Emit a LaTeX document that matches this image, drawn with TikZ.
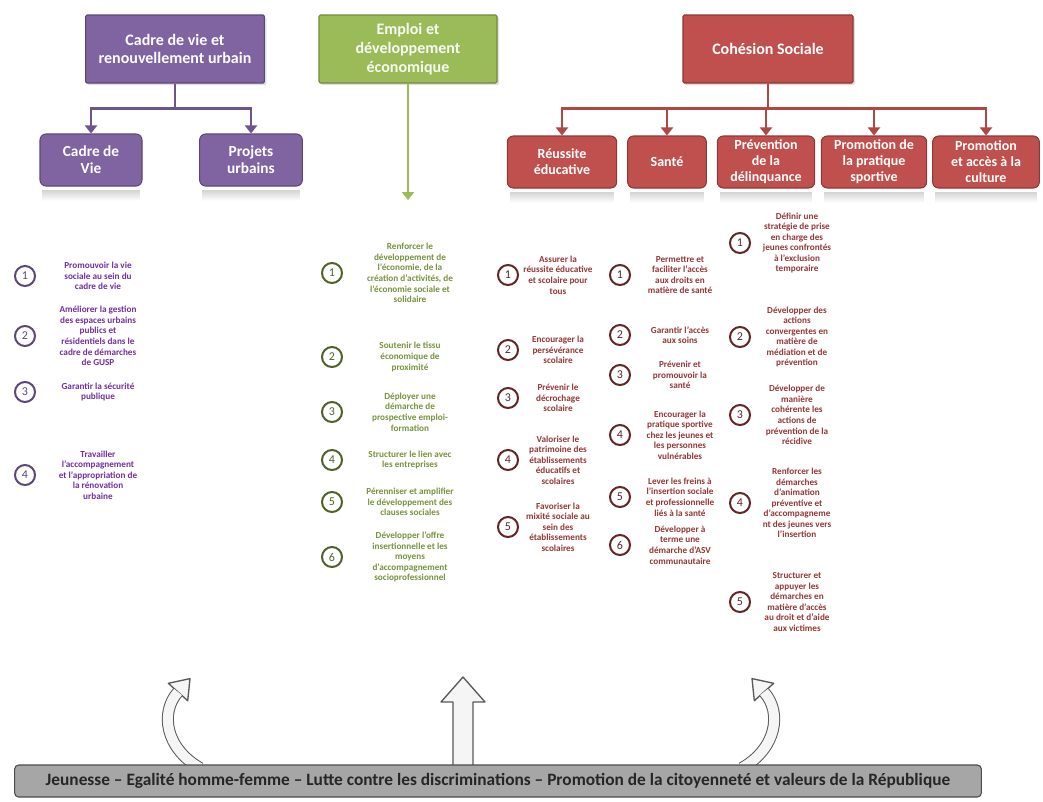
\documentclass[tikz,border=0pt]{standalone}
\usepackage{fontspec}
\setmainfont{Carlito}
\usepackage{xcolor}
\usepackage{tikz}
\usetikzlibrary{arrows.meta,calc,fadings,shadows}
\definecolor{cadrefond}{HTML}{8064A2}
\definecolor{cadretrait}{HTML}{5C4776}
\definecolor{cadretexte}{HTML}{7030A0}
\definecolor{emploifond}{HTML}{9BBB59}
\definecolor{emploitrait}{HTML}{71893F}
\definecolor{emploitexte}{HTML}{76923C}
\definecolor{emploipuce}{HTML}{4F6228}
\definecolor{cohesionfond}{HTML}{C0504D}
\definecolor{cohesiontrait}{HTML}{8C3836}
\definecolor{cohesiontexte}{HTML}{953735}
\definecolor{cohesionpuce}{HTML}{632523}
\definecolor{bandeaufond}{HTML}{A6A6A6}

\begin{document}
\begin{tikzpicture}[x=0.75pt,y=-0.75pt,
  boite/.style={rectangle,rounded corners=1pt,line width=0.8pt,text=white,align=center,
    font=\bfseries\fontsize{12}{14}\selectfont,inner sep=2pt,minimum height=51pt,
    drop shadow={opacity=0.25,shadow xshift=1.5pt,shadow yshift=-1.5pt}},
  sousboite/.style={rectangle,rounded corners=4.5pt,line width=0.8pt,text=white,align=center,
    inner sep=2pt,minimum height=39pt,font=\bfseries\fontsize{10.5}{12}\selectfont},
  lien/.style={line width=2.2pt,-{Triangle[width=9pt,length=6pt]}},
  puce/.style={circle,draw,line width=1.5pt,minimum size=15pt,inner sep=0pt,fill=white,
    font=\fontsize{9}{9}\selectfont},
  objectif/.style={align=center,font=\bfseries\fontsize{6.9}{7.9}\selectfont},
  reflet/.style={fill=gray!35,path fading=south},
  grossefleche/.style={draw=gray!70!black,fill=gray!8,line width=1pt,line join=round}]

  \fill[white] (0,0) rectangle (1043,801);
  \useasboundingbox (0,0) rectangle (1043,801);

  % Cadre de vie et renouvellement urbain
  \node[boite,fill=cadrefond,draw=cadretrait,minimum width=134pt] (cadre) at (175,49)
    {Cadre de vie et\\renouvellement urbain};
  \node[sousboite,fill=cadrefond,draw=cadretrait,minimum width=76.5pt,font=\bfseries\fontsize{11.5}{13}\selectfont] (cadrevie) at (91,160)
    {Cadre de\\Vie};
  \node[sousboite,fill=cadrefond,draw=cadretrait,minimum width=77pt,font=\bfseries\fontsize{11.5}{13}\selectfont] (projets) at (251,160)
    {Projets\\urbains};
  \draw[lien,draw=cadrefond!85!black] (cadre.south) -- ++(0,25) -| (cadrevie.north);
  \draw[lien,draw=cadrefond!85!black] (cadre.south) -- ++(0,25) -| (projets.north);

  % Emploi et developpement economique
  \node[boite,fill=emploifond,draw=emploitrait,minimum width=133.5pt,text=white!92!emploifond] (emploi) at (408,49)
    {Emploi et\\développement\\économique};
  \coordinate (emploifin) at (408,200);
  \draw[lien,draw=emploifond] (emploi.south) -- (emploifin);

  % Cohesion sociale
  \node[boite,fill=cohesionfond,draw=cohesiontrait,minimum width=127.5pt] (cohesion) at (768,49)
    {Cohésion Sociale};
  \node[sousboite,fill=cohesionfond,draw=cohesiontrait,minimum width=82pt] (reussite) at (562,162)
    {Réussite\\éducative};
  \node[sousboite,fill=cohesionfond,draw=cohesiontrait,minimum width=59pt] (sante) at (667,162)
    {Santé};
  \node[sousboite,fill=cohesionfond,draw=cohesiontrait,minimum width=73pt] (prevention) at (766,162)
    {Prévention\\de la\\délinquance};
  \node[sousboite,fill=cohesionfond,draw=cohesiontrait,minimum width=79pt] (sportive) at (874,162)
    {Promotion de\\la pratique\\sportive};
  \node[sousboite,fill=cohesionfond,draw=cohesiontrait,minimum width=80pt] (culture) at (986,162)
    {Promotion\\et accès à la\\culture};
  \foreach \b in {reussite,sante,prevention,sportive,culture}
    \draw[lien,draw=cohesionfond!90!black] (cohesion.south) -- ++(0,25) -| (\b.north);

  % reflets sous les boites
  \foreach \b in {cadrevie,projets,reussite,sante,prevention,sportive,culture}
    \fill[reflet] ($(\b.south west)+(3,3)$) rectangle ($(\b.south east)+(-3,14)$);

  % objectifs
  \foreach \n/\y/\txt in {
    1/276/{Promouvoir la vie\\sociale au sein du\\cadre de vie},
    2/336/{Améliorer la gestion\\des espaces urbains\\publics et\\résidentiels dans le\\cadre de démarches\\de GUSP},
    3/392/{Garantir la sécurité\\publique},
    4/475/{Travailler\\l'accompagnement\\et l'appropriation de\\la rénovation\\urbaine}}{
    \node[puce,draw=cadretrait,text=cadretrait] (cv\n) at (25,\y) {\n};
    \node[objectif,text=cadretexte] (cvt\n) at (98,\y) {\txt};
  }
  \foreach \n/\y/\txt in {
    1/273/{Renforcer le\\développement de\\l'économie, de la\\création d'activités, de\\l'économie sociale et\\solidaire},
    2/357/{Soutenir le tissu\\économique de\\proximité},
    3/412/{Déployer une\\démarche de\\prospective emploi-\\formation},
    4/460/{Structurer le lien avec\\les entreprises},
    5/502/{Pérenniser et amplifier\\le développement des\\clauses sociales},
    6/557/{Développer l'offre\\insertionnelle et les\\moyens\\d'accompagnement\\socioprofessionnel}}{
    \node[puce,draw=emploipuce,text=emploipuce] (em\n) at (332,\y) {\n};
    \node[objectif,text=emploitexte] (emt\n) at (410,\y) {\txt};
  }
  \foreach \n/\y/\txt in {
    1/275/{Assurer la\\réussite éducative\\et scolaire pour\\tous},
    2/350/{Encourager la\\persévérance\\scolaire},
    3/398/{Prévenir le\\décrochage\\scolaire},
    4/460/{Valoriser le\\patrimoine des\\établissements\\éducatifs et\\scolaires},
    5/527/{Favoriser la\\mixité sociale au\\sein des\\établissements\\scolaires}}{
    \node[puce,draw=cohesionpuce,text=cohesionpuce] (re\n) at (508,\y) {\n};
    \node[objectif,text=cohesiontexte] (ret\n) at (558,\y) {\txt};
  }
  \foreach \n/\y/\txt in {
    1/275/{Permettre et\\faciliter l'accès\\aux droits en\\matière de santé},
    2/335/{Garantir l'accès\\aux soins},
    3/375/{Prévenir et\\promouvoir la\\santé},
    4/435/{Encourager la\\pratique sportive\\chez les jeunes et\\les personnes\\vulnérables},
    5/497/{Lever les freins à\\l'insertion sociale\\et professionnelle\\liés à la santé},
    6/545/{Développer à\\terme une\\démarche d'ASV\\communautaire}}{
    \node[puce,draw=cohesionpuce,text=cohesionpuce] (sa\n) at (620,\y) {\n};
    \node[objectif,text=cohesiontexte] (sat\n) at (680,\y) {\txt};
  }
  \foreach \n/\y/\txt in {
    1/243/{Définir une\\stratégie de prise\\en charge des\\jeunes confrontés\\à l'exclusion\\temporaire},
    2/337/{Développer des\\actions\\convergentes en\\matière de\\médiation et de\\prévention},
    3/415/{Développer de\\manière\\cohérente les\\actions de\\prévention de la\\récidive},
    4/503/{Renforcer les\\démarches\\d'animation\\préventive et\\d'accompagneme\\nt des jeunes vers\\l'insertion},
    5/602/{Structurer et\\appuyer les\\démarches en\\matière d'accès\\au droit et d'aide\\aux victimes}}{
    \node[puce,draw=cohesionpuce,text=cohesionpuce] (pr\n) at (740,\y) {\n};
    \node[objectif,text=cohesiontexte] (prt\n) at (797,\y) {\txt};
  }

  % fleches vers les trois piliers
  \draw[grossefleche] (187.7,700.7) -- (190,678.6) -- (168.3,683.3) -- cycle;
  \draw[gray!70!black,line width=9pt] (200,768) .. controls (165,748) and (160,712) .. (178,692);
  \draw[gray!8,line width=7.5pt] (200,768) .. controls (165,748) and (160,712) .. (178,692);
  \draw[grossefleche] (453,768) -- (453,702) -- (441,702) -- (463,677) -- (485,702) -- (473,702) -- (473,768);
  \draw[grossefleche] (773.7,683.3) -- (752,678.6) -- (754.3,700.7) -- cycle;
  \draw[gray!70!black,line width=9pt] (742,768) .. controls (777,748) and (782,712) .. (764,692);
  \draw[gray!8,line width=7.5pt] (742,768) .. controls (777,748) and (782,712) .. (764,692);

  % bandeau transversal
  \node[draw=gray!60!black,fill=bandeaufond,rounded corners=3pt,line width=0.8pt,
    minimum width=725pt,minimum height=24pt,text=black!85,font=\bfseries\fontsize{13}{15}\selectfont] (bandeau) at (498,781)
    {Jeunesse -- Egalité homme-femme -- Lutte contre les discriminations -- Promotion de la citoyenneté et valeurs de la République};
\end{tikzpicture}
\end{document}
